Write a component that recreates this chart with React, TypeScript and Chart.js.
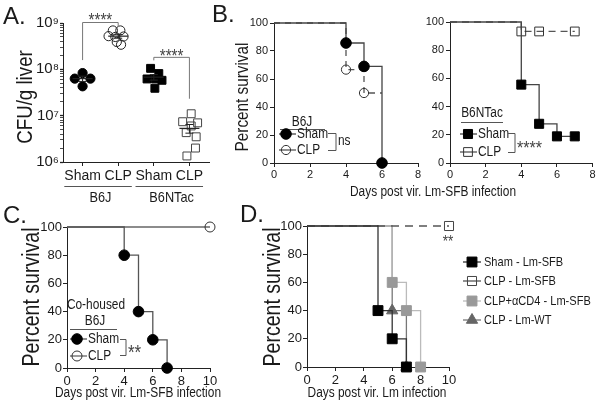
import React, { useEffect, useRef } from 'react';
import { Chart, registerables } from 'chart.js';

Chart.register(...registerables);

const FONT = '"Liberation Sans", Arial, sans-serif';
const LETTER_FONT = '"Liberation Sans", Arial, sans-serif';
const INK = '#1a1a1a';
const AXIS = '#222';
const SQUEEZE = 0.85;

// ---------------- Panel A data ----------------
const aCategories = ['Sham', 'CLP', 'Sham', 'CLP'];
const aStrains = ['B6J', 'B6NTac'];
const aDecades = [1e6, 1e7, 1e8, 1e9];
const aDecadeLabels = ['10⁶', '10⁷', '10⁸', '10⁹'];
const aB6JShamJitter = [0, -0.22, 0.22, 0];
const aB6JShamCFU = [8.3e7, 6.3e7, 6.3e7, 4.3e7];
const aB6JCLPJitter = [-0.15, 0.06, -0.27, -0.08, 0.15, -0.04, 0.08];
const aB6JCLPCFU = [6.9e8, 6.9e8, 5.2e8, 5.0e8, 5.1e8, 3.9e8, 3.4e8];
const aB6NShamJitter = [-0.09, 0.14, -0.19, 0.05, 0.23, 0.03];
const aB6NShamCFU = [1.05e8, 8.1e7, 6.2e7, 6.2e7, 5.8e7, 3.9e7];
const aB6NCLPJitter = [0.05, -0.19, 0.23, 0.05, -0.09, 0.19, 0.17, -0.07];
const aB6NCLPCFU = [1.1e7, 7.4e6, 7.0e6, 6.0e6, 4.3e6, 3.5e6, 2.0e6, 1.35e6];
const aSignif = ['****', '****'];
const aYTitle = 'CFU/g liver';

// ---------------- Survival data ----------------
const survTicks = [0, 20, 40, 60, 80, 100];
const bDayTicks = [0, 2, 4, 6, 8];
const cdDayTicks = [0, 2, 4, 6, 8, 10];
const survTitle = 'Percent survival';

const bB6JShamDays = [0, 4, 5, 6];
const bB6JShamSurv = [100, 85.7, 69, 0];
const bB6JCLPDays = [0, 4, 5, 6];
const bB6JCLPSurv = [100, 66.7, 50, 50];
const bB6NShamDays = [0, 4, 5, 6, 7];
const bB6NShamSurv = [100, 55.6, 27.8, 18.9, 18.9];
const bB6NCLPDays = [0, 4, 5, 7];
const bB6NCLPSurv = [100, 93.3, 93.3, 93.3];
const bLabels = ['Sham', 'CLP'];
const bXTitle = 'Days post vir. Lm-SFB infection';

const cShamDays = [0, 4, 5, 6, 7];
const cShamSurv = [100, 80, 40, 20, 0];
const cCLPDays = [0, 10];
const cCLPSurv = [100, 100];
const cXTitle = 'Days post vir. Lm-SFB infection';

const dShamDays = [0, 5, 6, 7];
const dShamSurv = [100, 40, 20, 0];
const dCLPDays = [0, 10];
const dCLPSurv = [100, 100];
const dCD4Days = [0, 6, 7, 8];
const dCD4Surv = [100, 60, 40, 0];
const dWTDays = [0, 6, 7];
const dWTSurv = [100, 40, 0];
const dLabels = ['Sham - Lm-SFB', 'CLP - Lm-SFB', 'CLP+αCD4 - Lm-SFB', 'CLP - Lm-WT'];
const dXTitle = 'Days post vir. Lm infection';

// ---------------- helpers ----------------
const mean = (v: number[]) => v.reduce((a, b) => a + b, 0) / v.length;
const sem = (v: number[]) => {
  const m = mean(v);
  const sd = Math.sqrt(v.reduce((a, b) => a + (b - m) ** 2, 0) / (v.length - 1));
  return sd / Math.sqrt(v.length);
};

function text(ctx: CanvasRenderingContext2D, s: string, x: number, y: number, size: number, o: any = {}) {
  ctx.save();
  ctx.font = `${o.weight || 'normal'} ${size}px ${o.family || FONT}`;
  ctx.fillStyle = o.color || INK;
  ctx.textAlign = o.align || 'left';
  ctx.textBaseline = o.baseline || 'middle';
  ctx.translate(x, y);
  if (o.rot) ctx.rotate(o.rot);
  const sx = o.sx === undefined ? SQUEEZE : o.sx;
  ctx.scale(sx, 1);
  ctx.fillText(s, 0, 0);
  ctx.restore();
}

function stars(ctx: CanvasRenderingContext2D, s: string, cx: number, cy: number, size: number, align = 'center', color = '#444') {
  text(ctx, s, cx, cy + 0.57 * size, size, { baseline: 'alphabetic', align, color });
}

function seg(ctx: CanvasRenderingContext2D, pts: number[][], color: string, w = 1) {
  ctx.save();
  ctx.strokeStyle = color;
  ctx.lineWidth = w;
  ctx.beginPath();
  pts.forEach((p, i) => (i ? ctx.lineTo(p[0], p[1]) : ctx.moveTo(p[0], p[1])));
  ctx.stroke();
  ctx.restore();
}

function marker(ctx: CanvasRenderingContext2D, shape: string, x: number, y: number, r: number, fill: string, stroke: string) {
  ctx.save();
  ctx.beginPath();
  if (shape === 'circle') ctx.arc(x, y, r, 0, Math.PI * 2);
  else if (shape === 'rect') {
    const s = r * Math.SQRT1_2;
    ctx.rect(x - s, y - s, 2 * s, 2 * s);
  } else {
    ctx.moveTo(x, y - r);
    ctx.lineTo(x + 0.866 * r, y + 0.5 * r);
    ctx.lineTo(x - 0.866 * r, y + 0.5 * r);
    ctx.closePath();
  }
  ctx.fillStyle = fill;
  ctx.fill();
  ctx.strokeStyle = stroke;
  ctx.lineWidth = 1;
  ctx.stroke();
  ctx.restore();
}

function padding(L: number, T: number, R: number, B: number, yw: number, xh: number) {
  return { left: L - yw, top: T, right: 600 - R, bottom: 406 - B - xh };
}

const NONE = 'rgba(0,0,0,0)';
const A_TICK_SIZE = 14;

// ---------------- Panel A ----------------
function makeA() {
  const groups = [
    { jit: aB6JShamJitter, val: aB6JShamCFU, shape: 'circle', r: 4.6, fill: '#000', stroke: '#000' },
    { jit: aB6JCLPJitter, val: aB6JCLPCFU, shape: 'circle', r: 4.6, fill: NONE, stroke: '#222' },
    { jit: aB6NShamJitter, val: aB6NShamCFU, shape: 'rect', r: 5.6, fill: '#000', stroke: '#000' },
    { jit: aB6NCLPJitter, val: aB6NCLPCFU, shape: 'rect', r: 5.6, fill: NONE, stroke: '#444' },
  ];
  const plugin = {
    id: 'panelA',
    afterDatasetsDraw(chart: any) {
      const { ctx, scales, chartArea } = chart;
      const x = scales.x, y = scales.y;
      groups.forEach((g, i) => {
        const m = mean(g.val), e = sem(g.val);
        const cx = x.getPixelForValue(i);
        const ym = y.getPixelForValue(m), y1 = y.getPixelForValue(m + e), y2 = y.getPixelForValue(m - e);
        seg(ctx, [[cx - 10, ym], [cx + 10, ym]], '#222', 1.2);
        seg(ctx, [[cx, y1], [cx, y2]], '#222', 1);
        seg(ctx, [[cx - 4, y1], [cx + 4, y1]], '#222', 1);
        seg(ctx, [[cx - 4, y2], [cx + 4, y2]], '#222', 1);
      });
      const x0 = x.getPixelForValue(0), x1 = x.getPixelForValue(1);
      const t1 = chartArea.top - 0.5;
      seg(ctx, [[x0, y.getPixelForValue(Math.max(...aB6JShamCFU)) - 13], [x0, t1], [x1, t1], [x1, t1 + 4]], '#777', 1);
      stars(ctx, aSignif[0], (x0 + x1) / 2, t1 - 7, 18);
      const x2 = x.getPixelForValue(2), x3 = x.getPixelForValue(3);
      const t2 = y.getPixelForValue(Math.max(...aB6NShamCFU)) - 11;
      seg(ctx, [[x2, t2 + 3], [x2, t2], [x3, t2], [x3, y.getPixelForValue(Math.max(...aB6NCLPCFU)) - 15]], '#777', 1);
      stars(ctx, aSignif[1], (x2 + x3) / 2, t2 - 6, 18);
    },
    afterDraw(chart: any) {
      const { ctx, scales } = chart;
      const x = scales.x;
      text(ctx, 'A.', 3, 17, 24, { family: LETTER_FONT, sx: 1 });
      text(ctx, aYTitle, 26, 97, 22, { rot: -Math.PI / 2, align: 'center' });
      ctx.save();
      ctx.font = `${A_TICK_SIZE}px ${FONT}`;
      aStrains.forEach((s, k) => {
        const a = x.getPixelForValue(2 * k), b = x.getPixelForValue(2 * k + 1);
        const wa = ctx.measureText(aCategories[2 * k]).width, wb = ctx.measureText(aCategories[2 * k + 1]).width;
        seg(ctx, [[a - wa / 2, 186.5], [b + wb / 2, 186.5]], '#555', 1);
        text(ctx, s, (a + b) / 2, 198, 15, { align: 'center' });
      });
      ctx.restore();
    },
  };
  return {
    type: 'scatter',
    data: {
      datasets: groups.map((g, gi) => ({
        data: g.val.map((v, j) => ({ x: gi + g.jit[j], y: v })),
        pointStyle: g.shape,
        pointRadius: g.r,
        pointBackgroundColor: g.fill,
        pointBorderColor: g.stroke,
        pointBorderWidth: 1,
        clip: false,
      })),
    },
    options: {
      responsive: false,
      animation: false,
      events: [],
      layout: { padding: padding(63, 23, 209, 162, 45, 30) },
      plugins: { legend: { display: false }, tooltip: { enabled: false } },
      scales: {
        x: {
          type: 'linear',
          min: -0.55,
          max: 3.55,
          afterBuildTicks: (s: any) => { s.ticks = aCategories.map((_, i) => ({ value: i })); },
          afterFit: (s: any) => { s.height = 30; },
          ticks: { callback: (_v: any, i: number) => aCategories[i], font: { family: FONT, size: A_TICK_SIZE }, color: INK, padding: 2, autoSkip: false, maxRotation: 0 },
          grid: { drawOnChartArea: false, tickLength: 4, color: AXIS },
          border: { color: AXIS, width: 1 },
        },
        y: {
          type: 'logarithmic',
          min: 1e6,
          max: 1e9,
          afterBuildTicks: (s: any) => {
            const t: any[] = [];
            for (let e = 6; e < 9; e++) for (let m = 1; m < 10; m++) t.push({ value: m * 10 ** e });
            t.push({ value: 1e9 });
            s.ticks = t;
          },
          afterFit: (s: any) => { s.width = 45; },
          ticks: {
            callback: (v: any) => { const i = aDecades.indexOf(v); return i >= 0 ? aDecadeLabels[i] : ''; },
            font: { family: FONT, size: 15 }, color: INK, padding: 1, autoSkip: false,
          },
          grid: { drawOnChartArea: false, tickLength: 3, color: AXIS, tickWidth: (c: any) => (c.tick && aDecades.includes(c.tick.value) ? 1.3 : 0.8) },
          border: { color: AXIS, width: 1 },
        },
      },
    },
    plugins: [plugin],
  };
}

// ---------------- Survival panels ----------------
type Series = { days: number[]; surv: number[]; shape: string; r: number; fill: string; stroke: string; line: string; dash?: number[]; lastMarker?: boolean };

function survivalConfig(opts: {
  series: Series[]; xTicks: number[]; area: number[]; tickSize: number; yPad: number; xPad: number; draw: (chart: any) => void;
}) {
  const [L, T, R, B] = opts.area;
  const xMax = opts.xTicks[opts.xTicks.length - 1];
  return {
    type: 'line',
    data: {
      datasets: opts.series.map((s) => ({
        data: s.days.map((d, i) => ({ x: d, y: s.surv[i] })),
        stepped: 'before',
        borderColor: s.line,
        borderWidth: 1.3,
        borderDash: s.dash || [],
        fill: false,
        pointStyle: s.shape,
        pointRadius: (c: any) => (c.dataIndex === 0 || (s.lastMarker === false && c.dataIndex === s.days.length - 1) ? 0 : s.r),
        pointBackgroundColor: s.fill,
        pointBorderColor: s.stroke,
        pointBorderWidth: 1,
        clip: false,
      })),
    },
    options: {
      responsive: false,
      animation: false,
      events: [],
      layout: { padding: padding(L, T, R, B, 30, 22) },
      plugins: { legend: { display: false }, tooltip: { enabled: false } },
      scales: {
        x: {
          type: 'linear', min: 0, max: xMax,
          afterBuildTicks: (s: any) => { s.ticks = opts.xTicks.map((v) => ({ value: v })); },
          afterFit: (s: any) => { s.height = 22; },
          ticks: { font: { family: FONT, size: opts.tickSize }, color: INK, padding: opts.xPad, autoSkip: false, maxRotation: 0 },
          grid: { drawOnChartArea: false, tickLength: 4, color: AXIS },
          border: { color: AXIS, width: 1 },
        },
        y: {
          type: 'linear', min: 0, max: 100,
          afterBuildTicks: (s: any) => { s.ticks = survTicks.map((v) => ({ value: v })); },
          afterFit: (s: any) => { s.width = 30; },
          ticks: { font: { family: FONT, size: opts.tickSize }, color: INK, padding: opts.yPad, autoSkip: false },
          grid: { drawOnChartArea: false, tickLength: 4, color: AXIS },
          border: { color: AXIS, width: 1 },
        },
      },
    },
    plugins: [{ id: 'ann', afterDraw: opts.draw }],
  };
}

function legendItems(ctx: CanvasRenderingContext2D, items: { s: Series; label: string; y: number }[], mx: number, l1: number, l2: number, tx: number, size: number) {
  items.forEach((it) => {
    seg(ctx, [[l1, it.y], [l2, it.y]], it.s.line, 1.3);
    marker(ctx, it.s.shape, mx, it.y, it.s.r, it.s.fill, it.s.stroke);
    text(ctx, it.label, tx, it.y, size);
  });
}

function bracket(ctx: CanvasRenderingContext2D, x1: number, x2: number, y1: number, y2: number) {
  seg(ctx, [[x1, y1], [x2, y1], [x2, y2], [x1, y2]], '#555', 1);
}

const sB6JSham: Series = { days: bB6JShamDays, surv: bB6JShamSurv, shape: 'circle', r: 5.3, fill: '#000', stroke: '#000', line: '#444' };
const sB6JCLP: Series = { days: bB6JCLPDays, surv: bB6JCLPSurv, shape: 'circle', r: 4.6, fill: NONE, stroke: '#333', line: '#555', dash: [6, 5], lastMarker: false };
const sB6NSham: Series = { days: bB6NShamDays, surv: bB6NShamSurv, shape: 'rect', r: 6.4, fill: '#000', stroke: '#000', line: '#444' };
const sB6NCLP: Series = { days: bB6NCLPDays, surv: bB6NCLPSurv, shape: 'rect', r: 6.2, fill: NONE, stroke: '#333', line: '#555', dash: [7, 5] };
const sCSham: Series = { days: cShamDays, surv: cShamSurv, shape: 'circle', r: 5.3, fill: '#000', stroke: '#000', line: '#555' };
const sCCLP: Series = { days: cCLPDays, surv: cCLPSurv, shape: 'circle', r: 5, fill: NONE, stroke: '#333', line: '#666' };
const sDSham: Series = { days: dShamDays, surv: dShamSurv, shape: 'rect', r: 7, fill: '#000', stroke: '#000', line: '#333' };
const sDCLP: Series = { days: dCLPDays, surv: dCLPSurv, shape: 'rect', r: 6.4, fill: NONE, stroke: '#444', line: '#555', dash: [8, 6] };
const sDCD4: Series = { days: dCD4Days, surv: dCD4Surv, shape: 'rect', r: 7, fill: '#999', stroke: '#999', line: '#bbb' };
const sDWT: Series = { days: dWTDays, surv: dWTSurv, shape: 'triangle', r: 6.5, fill: '#666', stroke: '#666', line: '#777' };

function makeBLeft() {
  return survivalConfig({
    series: [sB6JSham, sB6JCLP], xTicks: bDayTicks, area: [274, 23, 418, 163], tickSize: 11, yPad: 2, xPad: 1,
    draw: (chart: any) => {
      const ctx = chart.ctx;
      text(ctx, 'B.', 212, 15, 24, { family: LETTER_FONT, sx: 1 });
      text(ctx, survTitle, 243, 97, 18, { rot: -Math.PI / 2, align: 'center' });
      text(ctx, 'B6J', 302, 122, 14, { align: 'center' });
      seg(ctx, [[280, 129.5], [325, 129.5]], '#555', 1);
      legendItems(ctx, [{ s: sB6JSham, label: bLabels[0], y: 134 }, { s: sB6JCLP, label: bLabels[1], y: 150 }], 286, 279, 296, 297, 14);
      bracket(ctx, 328, 336, 133.5, 150.5);
      text(ctx, 'ns', 338, 141, 14);
    },
  });
}

function makeBRight() {
  return survivalConfig({
    series: [sB6NSham, sB6NCLP], xTicks: bDayTicks, area: [450, 22, 593, 163], tickSize: 11, yPad: 2, xPad: 1,
    draw: (chart: any) => {
      const ctx = chart.ctx;
      text(ctx, bXTitle, 433, 192, 14, { align: 'center' });
      text(ctx, 'B6NTac', 482, 113, 14, { align: 'center' });
      seg(ctx, [[461, 122.5], [503, 122.5]], '#555', 1);
      legendItems(ctx, [{ s: sB6NSham, label: bLabels[0], y: 134 }, { s: sB6NCLP, label: bLabels[1], y: 152 }], 468, 460, 477, 478, 14);
      bracket(ctx, 508, 515, 133.5, 152.5);
      stars(ctx, '****', 517, 143, 19, 'left');
    },
  });
}

function makeC() {
  return survivalConfig({
    series: [sCSham, sCCLP], xTicks: cdDayTicks, area: [67, 227, 210, 368], tickSize: 13, yPad: 1, xPad: 2,
    draw: (chart: any) => {
      const ctx = chart.ctx;
      text(ctx, 'C.', 3, 216, 24, { family: LETTER_FONT, sx: 1 });
      text(ctx, survTitle, 33, 297, 23, { rot: -Math.PI / 2, align: 'center' });
      text(ctx, cXTitle, 138, 393, 14, { align: 'center' });
      text(ctx, 'Co-housed', 96, 305, 14, { align: 'center' });
      text(ctx, 'B6J', 95, 321, 14, { align: 'center' });
      seg(ctx, [[70, 329.5], [117, 329.5]], '#555', 1);
      legendItems(ctx, [{ s: sCSham, label: bLabels[0], y: 339 }, { s: sCCLP, label: bLabels[1], y: 356 }], 77, 70, 87, 88, 14);
      bracket(ctx, 120, 126, 339.5, 355.5);
      stars(ctx, '**', 128, 348, 20, 'left');
    },
  });
}

function makeD() {
  return survivalConfig({
    series: [sDSham, sDCLP, sDCD4, sDWT], xTicks: cdDayTicks, area: [307, 226, 449, 367], tickSize: 13, yPad: 1, xPad: 2,
    draw: (chart: any) => {
      const ctx = chart.ctx;
      text(ctx, 'D.', 240, 215, 24, { family: LETTER_FONT, sx: 1 });
      text(ctx, survTitle, 274, 297, 23, { rot: -Math.PI / 2, align: 'center' });
      text(ctx, dXTitle, 377, 393, 14, { align: 'center' });
      stars(ctx, '**', 448, 238, 16, 'center');
      legendItems(ctx, [
        { s: sDSham, label: dLabels[0], y: 262 },
        { s: sDCLP, label: dLabels[1], y: 281 },
        { s: sDCD4, label: dLabels[2], y: 301 },
        { s: sDWT, label: dLabels[3], y: 320 },
      ], 472, 463, 481, 484, 13);
    },
  });
}

function ChartCanvas({ make }: { make: () => any }) {
  const ref = useRef<HTMLCanvasElement>(null);
  useEffect(() => {
    const chart = new Chart(ref.current as HTMLCanvasElement, make());
    return () => chart.destroy();
  }, []);
  return <canvas ref={ref} width={600} height={406} style={{ position: 'absolute', left: 0, top: 0, width: 600, height: 406 }} />;
}

export default function App() {
  return (
    <div style={{ position: 'absolute', left: 0, top: 0, width: 600, height: 406, background: '#fff', overflow: 'hidden' }}>
      <ChartCanvas make={makeA} />
      <ChartCanvas make={makeBLeft} />
      <ChartCanvas make={makeBRight} />
      <ChartCanvas make={makeC} />
      <ChartCanvas make={makeD} />
    </div>
  );
}
